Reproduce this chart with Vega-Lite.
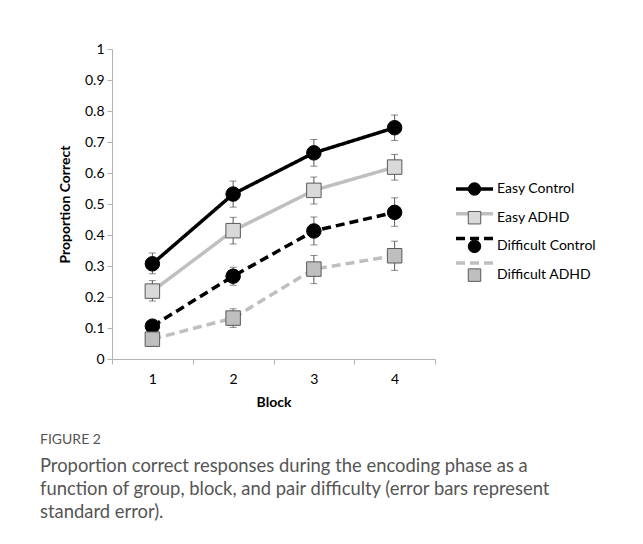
{
  "$schema": "https://vega.github.io/schema/vega-lite/v6.json",
  "autosize": "none",
  "width": 323,
  "height": 310,
  "padding": {"left": 112, "top": 49, "right": 208, "bottom": 185},
  "background": "white",
  "config": {
    "view": {"stroke": null},
    "axis": {
      "domainColor": "#b3b3b3",
      "tickColor": "#b3b3b3",
      "tickSize": 5,
      "grid": false,
      "labelFont": "Lato",
      "labelFontSize": 14,
      "labelColor": "#000000",
      "titleFont": "Lato",
      "titleFontSize": 14,
      "titleFontWeight": "bold",
      "titleColor": "#000000"
    }
  },
  "title": {
    "text": "FIGURE 2",
    "subtitle": [
      "Proportion correct responses during the encoding phase as a",
      "function of group, block, and pair difficulty (error bars represent",
      "standard error)."
    ],
    "orient": "bottom",
    "anchor": "start",
    "frame": "group",
    "dx": -72,
    "offset": 24,
    "font": "Lato",
    "fontSize": 14,
    "fontWeight": "normal",
    "color": "#555555",
    "subtitleFont": "Lato",
    "subtitleFontSize": 18.4,
    "subtitleColor": "#555555",
    "subtitleLineHeight": 23,
    "subtitlePadding": 10
  },
  "data": {
    "values": [
      {"block": 1, "group": "Easy Control", "value": 0.307, "lo": 0.275, "hi": 0.342},
      {"block": 2, "group": "Easy Control", "value": 0.532, "lo": 0.490, "hi": 0.574},
      {"block": 3, "group": "Easy Control", "value": 0.665, "lo": 0.622, "hi": 0.708},
      {"block": 4, "group": "Easy Control", "value": 0.746, "lo": 0.705, "hi": 0.787},
      {"block": 1, "group": "Easy ADHD", "value": 0.219, "lo": 0.187, "hi": 0.253},
      {"block": 2, "group": "Easy ADHD", "value": 0.414, "lo": 0.371, "hi": 0.457},
      {"block": 3, "group": "Easy ADHD", "value": 0.544, "lo": 0.500, "hi": 0.587},
      {"block": 4, "group": "Easy ADHD", "value": 0.619, "lo": 0.577, "hi": 0.660},
      {"block": 1, "group": "Difficult Control", "value": 0.106, "lo": 0.091, "hi": 0.121},
      {"block": 2, "group": "Difficult Control", "value": 0.267, "lo": 0.238, "hi": 0.296},
      {"block": 3, "group": "Difficult Control", "value": 0.413, "lo": 0.368, "hi": 0.458},
      {"block": 4, "group": "Difficult Control", "value": 0.473, "lo": 0.428, "hi": 0.520},
      {"block": 1, "group": "Difficult ADHD", "value": 0.064, "lo": 0.050, "hi": 0.078},
      {"block": 2, "group": "Difficult ADHD", "value": 0.132, "lo": 0.102, "hi": 0.162},
      {"block": 3, "group": "Difficult ADHD", "value": 0.290, "lo": 0.243, "hi": 0.334},
      {"block": 4, "group": "Difficult ADHD", "value": 0.333, "lo": 0.286, "hi": 0.380}
    ]
  },
  "encoding": {
    "x": {
      "field": "block",
      "type": "ordinal",
      "title": "Block",
      "scale": {"type": "band", "paddingInner": 0, "paddingOuter": 0},
      "axis": {"labelAngle": 0, "tickBand": "extent", "labelPadding": 8, "titlePadding": 9}
    }
  },
  "layer": [
    {
      "mark": {"type": "rule", "color": "#595959", "strokeWidth": 1},
      "encoding": {
        "y": {
          "field": "lo",
          "type": "quantitative",
          "title": "Proportion Correct",
          "scale": {"domain": [0, 1], "nice": false},
          "axis": {"values": [0, 0.1, 0.2, 0.3, 0.4, 0.5, 0.6, 0.7, 0.8, 0.9, 1], "format": "~g", "labelPadding": 3, "titlePadding": 12, "labelOverlap": false}
        },
        "y2": {"field": "hi"}
      }
    },
    {
      "mark": {"type": "tick", "color": "#595959", "size": 7, "thickness": 1, "orient": "horizontal"},
      "encoding": {
        "y": {
          "field": "lo",
          "type": "quantitative",
          "title": "Proportion Correct",
          "axis": {"values": [0, 0.1, 0.2, 0.3, 0.4, 0.5, 0.6, 0.7, 0.8, 0.9, 1], "format": "~g", "labelPadding": 3, "titlePadding": 12, "labelOverlap": false}
        }
      }
    },
    {
      "mark": {"type": "tick", "color": "#595959", "size": 7, "thickness": 1, "orient": "horizontal"},
      "encoding": {
        "y": {
          "field": "hi",
          "type": "quantitative",
          "title": "Proportion Correct",
          "axis": {"values": [0, 0.1, 0.2, 0.3, 0.4, 0.5, 0.6, 0.7, 0.8, 0.9, 1], "format": "~g", "labelPadding": 3, "titlePadding": 12, "labelOverlap": false}
        }
      }
    },
    {
      "mark": {"type": "line", "strokeWidth": 3.5},
      "encoding": {
        "y": {
          "field": "value",
          "type": "quantitative",
          "title": "Proportion Correct",
          "axis": {"values": [0, 0.1, 0.2, 0.3, 0.4, 0.5, 0.6, 0.7, 0.8, 0.9, 1], "format": "~g", "labelPadding": 3, "titlePadding": 12, "labelOverlap": false}
        },
        "color": {
          "field": "group",
          "type": "nominal",
          "sort": "descending",
          "scale": {"range": ["#000000", "#bfbfbf", "#000000", "#bfbfbf"]},
          "legend": {
            "orient": "none",
            "legendX": 355.5,
            "legendY": 133,
            "title": null,
            "padding": 0,
            "symbolType": "M-3.7,0H3.7",
            "symbolSize": 100,
            "symbolStrokeWidth": 3.5,
            "symbolOpacity": 1,
            "rowPadding": 10.7,
            "labelFont": "Lato",
            "labelFontSize": 14,
            "labelOpacity": 0,
            "labelOffset": 15.5,
            "zindex": 0
          }
        },
        "strokeDash": {
          "field": "group",
          "type": "nominal",
          "sort": "descending",
          "scale": {"range": [[1, 0], [1, 0], [9, 5], [9, 5]]}
        }
      }
    },
    {
      "mark": {"type": "point", "filled": true, "size": 210, "strokeWidth": 1, "opacity": 1},
      "encoding": {
        "y": {
          "field": "value",
          "type": "quantitative",
          "title": "Proportion Correct",
          "axis": {"values": [0, 0.1, 0.2, 0.3, 0.4, 0.5, 0.6, 0.7, 0.8, 0.9, 1], "format": "~g", "labelPadding": 3, "titlePadding": 12, "labelOverlap": false}
        },
        "shape": {
          "field": "group",
          "type": "nominal",
          "scale": {
            "domain": ["Easy Control", "Easy ADHD", "Difficult Control", "Difficult ADHD"],
            "range": ["circle", "square", "circle", "square"]
          },
          "legend": {
            "orient": "none",
            "legendX": 355.5,
            "legendY": 133,
            "title": null,
            "padding": 0,
            "symbolSize": 156,
            "symbolStrokeWidth": 1,
            "symbolOpacity": 1,
            "rowPadding": 10.7,
            "labelFont": "Lato",
            "labelFontSize": 14,
            "labelColor": "#000000",
            "labelOffset": 15.5,
            "zindex": 1
          }
        },
        "fill": {
          "field": "group",
          "type": "nominal",
          "scale": {
            "domain": ["Easy Control", "Easy ADHD", "Difficult Control", "Difficult ADHD"],
            "range": ["#000000", "#d9d9d9", "#000000", "#bfbfbf"]
          }
        },
        "stroke": {
          "field": "group",
          "type": "nominal",
          "scale": {
            "domain": ["Easy Control", "Easy ADHD", "Difficult Control", "Difficult ADHD"],
            "range": ["#000000", "#595959", "#000000", "#595959"]
          }
        }
      }
    }
  ]
}
